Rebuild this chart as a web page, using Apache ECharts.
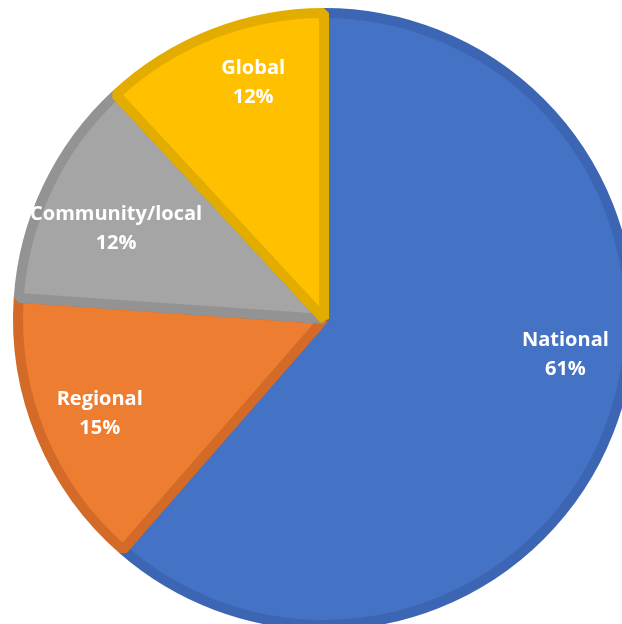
<!DOCTYPE html>
<html>
<head>
<meta charset="utf-8">
<style>html,body{margin:0;padding:0;background:#fff;}#chart{width:622px;height:624px;}</style>
<script src="https://cdn.jsdelivr.net/npm/echarts@6/dist/echarts.min.js"></script>
</head>
<body>
<div id="chart"></div>
<script>
const categories = ['National', 'Regional', 'Community/local', 'Global'];
const values = [61.4, 14.7, 12.0, 11.9];
const fillColors = ['#4472C4', '#ED7D31', '#A5A5A5', '#FFC000'];
const borderColors = ['#3C66B3', '#D36A28', '#939393', '#E3AC00'];
const labelOffsets = [[11, -50], [3, 1], [14, 16], [19, -7]];

const chart = echarts.init(document.getElementById('chart'), null, {renderer: 'canvas'});
const pieData = categories.map((c, i) => ({
  name: c, value: values[i],
  itemStyle: {color: fillColors[i], borderColor: borderColors[i]}
}));
const labelData = categories.map((c, i) => ({
  name: c, value: values[i],
  label: {offset: labelOffsets[i]}
}));
chart.setOption({
  animation: false,
  series: [
    {
      type: 'pie', center: [324, 319], radius: 306, startAngle: 90, clockwise: true,
      percentPrecision: 0,
      itemStyle: {borderWidth: 10, borderJoin: 'bevel'},
      label: {show: false}, labelLine: {show: false},
      emphasis: {disabled: true},
      data: pieData
    },
    {
      type: 'pie', center: [324, 319], radius: [180, 306], startAngle: 90, clockwise: true,
      percentPrecision: 0, silent: true,
      itemStyle: {color: 'rgba(0,0,0,0)', borderWidth: 0},
      label: {
        show: true, position: 'inside', formatter: '{b}\n{d}%',
        color: '#fff', fontFamily: 'Open Sans', fontWeight: 'bold', fontSize: 20, lineHeight: 29
      },
      labelLine: {show: false},
      emphasis: {disabled: true},
      data: labelData
    }
  ]
});
</script>
</body>
</html>
